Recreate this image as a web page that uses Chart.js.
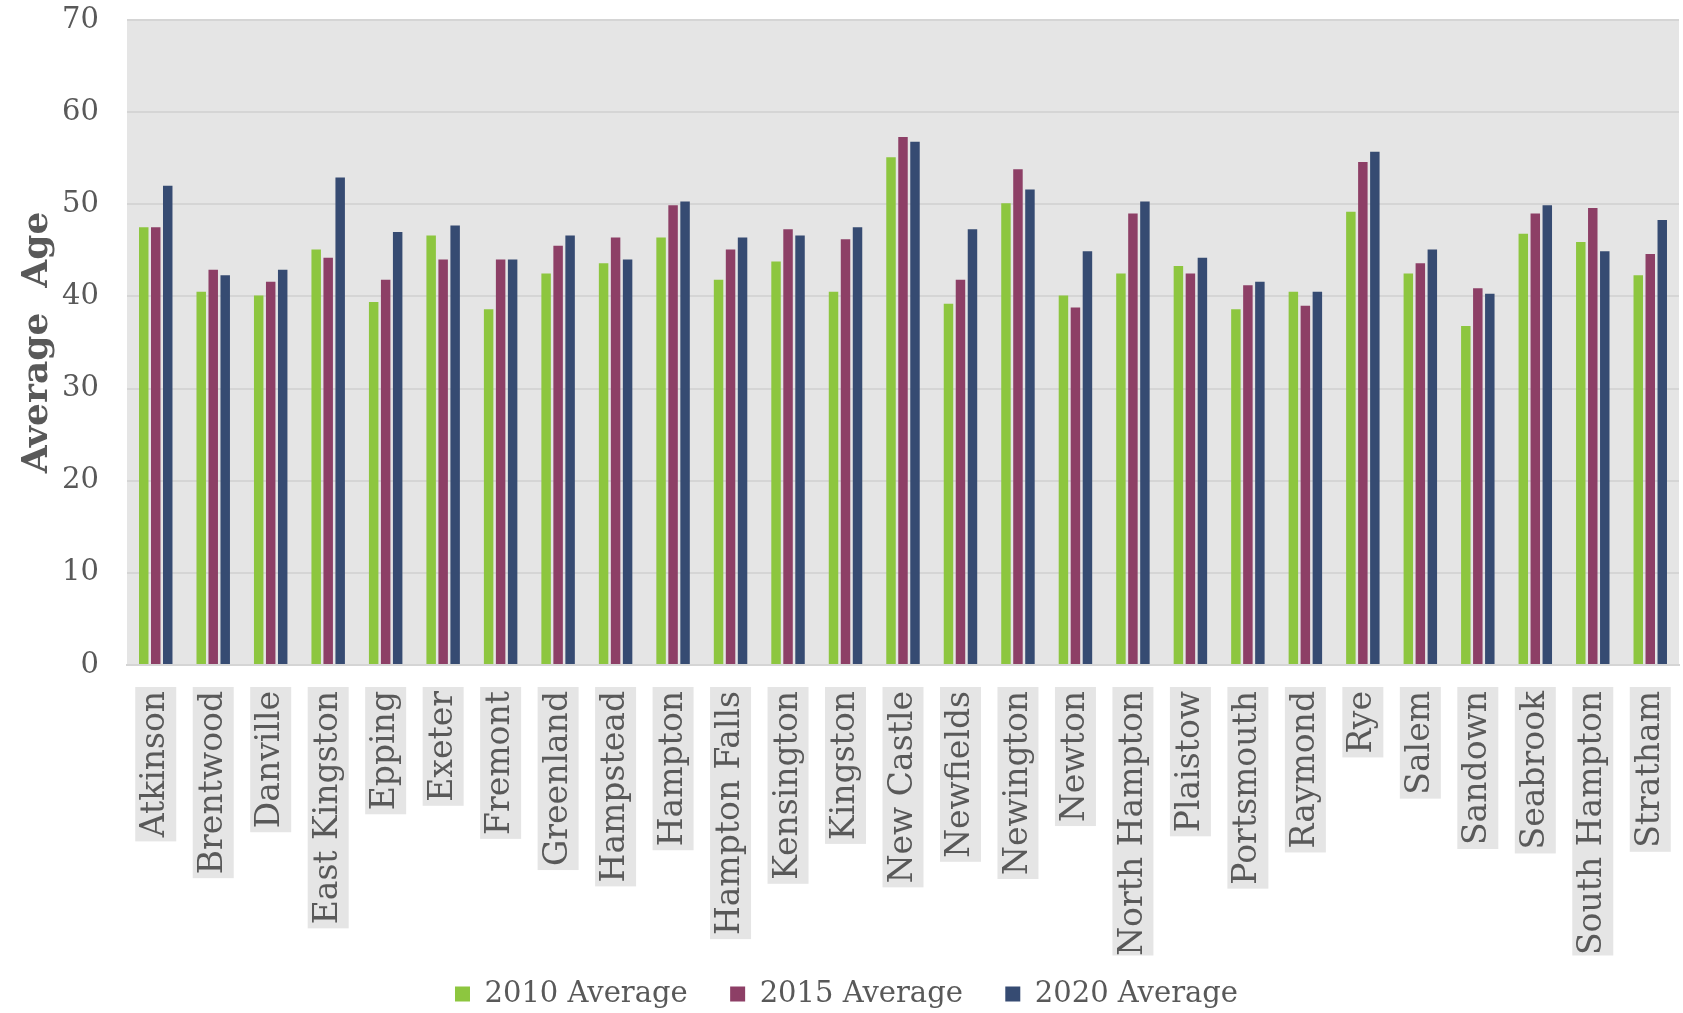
<!DOCTYPE html>
<html>
<head>
<meta charset="utf-8">
<script src="https://cdn.jsdelivr.net/npm/chart.js@4/dist/chart.umd.min.js"></script>
<style>
  html, body { margin: 0; padding: 0; background: #fff; }
  #wrap { width: 1683px; height: 1013px; }
</style>
</head>
<body>
<div id="wrap"><canvas id="ageChart"></canvas></div>
<script>
// towns and average ages per census year
var towns = ["Atkinson", "Brentwood", "Danville", "East Kingston", "Epping", "Exeter", "Fremont",
    "Greenland", "Hampstead", "Hampton", "Hampton Falls", "Kensington", "Kingston", "New Castle",
    "Newfields", "Newington", "Newton", "North Hampton", "Plaistow", "Portsmouth", "Raymond",
    "Rye", "Salem", "Sandown", "Seabrook", "South Hampton", "Stratham"];

var avg2010 = [47.5, 40.5, 40.1, 45.1, 39.4, 46.6, 38.6, 42.5, 43.6, 46.4, 41.8, 43.8, 40.5, 55.1,
    39.2, 50.1, 40.1, 42.5, 43.3, 38.6, 40.5, 49.2, 42.5, 36.8, 46.8, 45.9, 42.3];
var avg2015 = [47.5, 42.9, 41.6, 44.2, 41.8, 44.0, 44.0, 45.5, 46.4, 49.9, 45.1, 47.3, 46.2, 57.3,
    41.8, 53.8, 38.8, 49.0, 42.5, 41.2, 39.0, 54.6, 43.6, 40.9, 49.0, 49.6, 44.6];
var avg2020 = [52.0, 42.3, 42.9, 52.9, 47.0, 47.7, 44.0, 46.6, 44.0, 50.3, 46.4, 46.6, 47.5, 56.8,
    47.3, 51.6, 44.9, 50.3, 44.2, 41.6, 40.5, 55.7, 45.1, 40.3, 49.9, 44.9, 48.3];

var seriesNames = ["2010 Average", "2015 Average", "2020 Average"];
var yTicks = [0, 10, 20, 30, 40, 50, 60, 70];

var FONT = "'DejaVu Serif', serif";
var TEXT = "#595959";
var X_FONT_SIZE = 33;

// grey fill behind the plot area
var plotBackground = {
    id: 'plotBackground',
    beforeDraw: function (chart) {
        var a = chart.chartArea, ctx = chart.ctx;
        ctx.save();
        ctx.fillStyle = '#e5e5e5';
        ctx.fillRect(a.left, a.top, a.right - a.left, a.bottom - a.top);
        ctx.restore();
    }
};

function makeSet(label, data, color) {
    return {
        label: label,
        data: data,
        backgroundColor: color,
        borderWidth: 0,
        categoryPercentage: 0.626,
        barPercentage: 0.79
    };
}

// legend padding is also its vertical padding, so widen the gaps with trailing spaces
function legendLabels(chart) {
    var items = Chart.defaults.plugins.legend.labels.generateLabels(chart);
    items.forEach(function (item, i) {
        if (i < items.length - 1) item.text += '  ';
    });
    return items;
}

new Chart(document.getElementById("ageChart"), {
    type: 'bar',
    data: {
        labels: towns,
        datasets: [
            makeSet(seriesNames[0], avg2010, '#8dc63f'),
            makeSet(seriesNames[1], avg2015, '#8d3f66'),
            makeSet(seriesNames[2], avg2020, '#364b72')
        ]
    },
    plugins: [plotBackground],
    options: {
        responsive: true,
        maintainAspectRatio: false,
        animation: false,
        layout: { padding: { top: 20, right: 4, left: 14, bottom: -5.5 } },
        plugins: {
            tooltip: { enabled: false },
            legend: {
                position: 'bottom',
                labels: {
                    boxWidth: 15,
                    boxHeight: 15,
                    padding: 24,
                    color: TEXT,
                    font: { family: FONT, size: 29 },
                    generateLabels: legendLabels
                }
            }
        },
        scales: {
            x: {
                grid: { display: false, drawTicks: false },
                border: { display: true, color: '#d5d5d5', width: 2 },
                afterFit: function (scale) {
                    scale.height = 290.5;
                    // labels sit inside their category, no side room needed
                    scale.paddingLeft = 0;
                    scale.paddingRight = 0;
                },
                ticks: {
                    autoSkip: false,
                    maxRotation: 90,
                    minRotation: 90,
                    padding: 26,
                    labelOffset: -X_FONT_SIZE / 2,
                    color: TEXT,
                    font: { family: FONT, size: X_FONT_SIZE, lineHeight: 1.0 },
                    showLabelBackdrop: true,
                    backdropColor: '#e5e5e5',
                    backdropPadding: 4
                }
            },
            y: {
                min: 0,
                max: 70,
                afterFit: function (scale) {
                    scale.width = 113;
                    scale.paddingTop = 0;
                    scale.paddingBottom = 0;
                },
                afterBuildTicks: function (scale) {
                    scale.ticks = yTicks.map(function (v) { return { value: v }; });
                },
                grid: { color: '#d5d5d5', lineWidth: 2, drawTicks: false },
                border: { display: false },
                ticks: {
                    padding: 28,
                    color: TEXT,
                    font: { family: FONT, size: 29 }
                },
                title: {
                    display: true,
                    text: 'Average  Age',
                    color: TEXT,
                    padding: { top: 2, bottom: 0 },
                    font: { family: FONT, size: 36, weight: 'bold' }
                }
            }
        }
    }
});
</script>
</body>
</html>
